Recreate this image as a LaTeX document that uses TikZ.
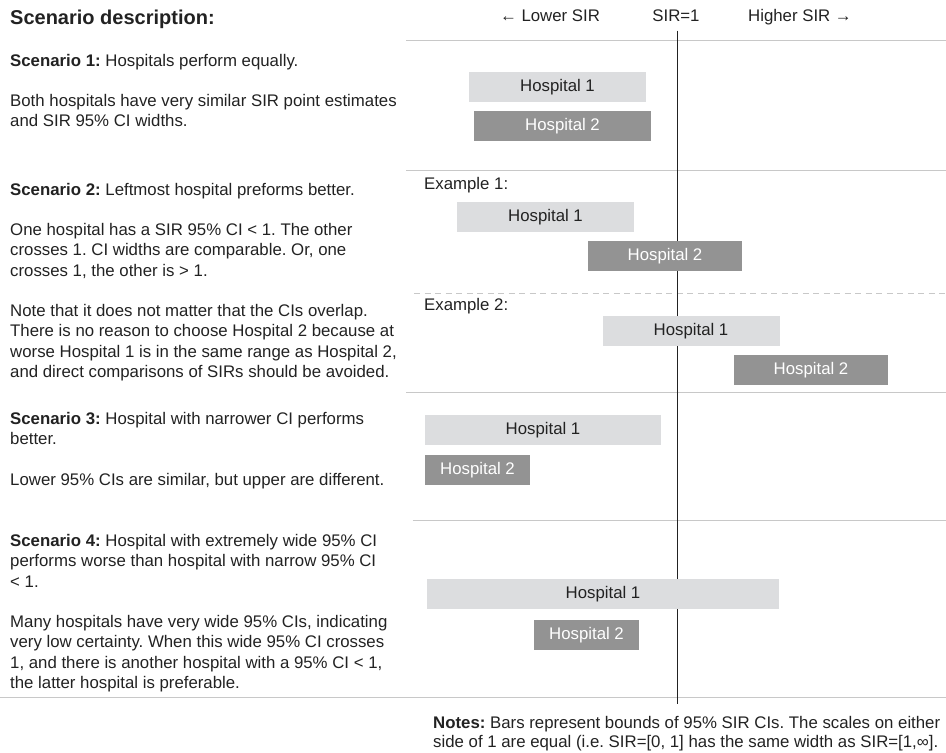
\documentclass[tikz,border=0pt]{standalone}
\usepackage{fontspec}
\setmainfont{Liberation Sans}
\usetikzlibrary{positioning}
\frenchspacing

\definecolor{barlightfill}{HTML}{DCDDDF}
\definecolor{bardarkfill}{HTML}{939393}
\definecolor{rulegray}{HTML}{C8C8C8}
\definecolor{inkgray}{HTML}{222222}

\tikzset{
    txt/.style={anchor=north west, inner sep=0pt, align=left, text=inkgray,
        font=\fontsize{16.8}{20.4}\selectfont},
    axlabel/.style={anchor=base, inner sep=0pt, text=inkgray,
        font=\fontsize{16.8}{20.4}\selectfont},
    hosp/.style={inner sep=0pt, minimum height=30, font=\fontsize{16.8}{20.4}\selectfont},
    hosplight/.style={hosp, fill=barlightfill, text=inkgray},
    hospdark/.style={hosp, fill=bardarkfill, text=white},
    sep/.style={rulegray, line width=1.5pt},
}

\begin{document}
\begin{tikzpicture}[x=1pt, y=-1pt]
    \useasboundingbox (0,0) rectangle (946,753);

    % Scenario texts
    \node[txt, font=\bfseries\fontsize{20}{24}\selectfont] (title) at (10,9.5) {Scenario description:};
    \node[txt] (s1head) at (10,54.5) {\textbf{Scenario 1:} Hospitals perform equally.};
    \node[txt] (s1text) at (10,94) {Both hospitals have very similar SIR point estimates\\and SIR 95\% CI widths.};
    \node[txt] (s2head) at (10,183) {\textbf{Scenario 2:} Leftmost hospital preforms better.};
    \node[txt] (s2text) at (10,223) {One hospital has a SIR 95\% CI < 1. The other\\crosses 1. CI widths are comparable. Or, one\\crosses 1, the other is > 1.};
    \node[txt] (s2note) at (10,304) {Note that it does not matter that the CIs overlap.\\There is no reason to choose Hospital 2 because at\\worse Hospital 1 is in the same range as Hospital 2,\\and direct comparisons of SIRs should be avoided.};
    \node[txt] (s3head) at (10,412) {\textbf{Scenario 3:} Hospital with narrower CI performs\\better.};
    \node[txt] (s3text) at (10,473) {Lower 95\% CIs are similar, but upper are different.};
    \node[txt] (s4head) at (10,534) {\textbf{Scenario 4:} Hospital with extremely wide 95\% CI\\performs worse than hospital with narrow 95\% CI\\< 1.};
    \node[txt] (s4text) at (10,615) {Many hospitals have very wide 95\% CIs, indicating\\very low certainty. When this wide 95\% CI crosses\\1, and there is another hospital with a 95\% CI < 1,\\the latter hospital is preferable.};

    % Axis labels
    \node[axlabel] (lower) at (550,21.8) {← Lower SIR};
    \node[axlabel] (one) at (676,21.8) {SIR=1};
    \node[axlabel] (higher) at (800,21.8) {Higher SIR →};

    % Separators
    \draw[sep] (406,40.7) -- (946,40.7);
    \draw[sep] (406,170.7) -- (946,170.7);
    \draw[sep, line width=1.2pt, dash pattern=on 6pt off 4.5pt] (414,293.3) -- (946,293.3);
    \draw[sep] (406,392.3) -- (946,392.3);
    \draw[sep] (412.5,520.7) -- (946,520.7);
    \draw[sep] (0,697.3) -- (946,697.3);

    % SIR = 1
    \draw[inkgray, line width=1.4pt] (677.3,30.7) -- (677.3,704);

    % Scenario 1
    \node[hosplight, minimum width=177] (s1a) at (557.5,87) {Hospital 1};
    \node[hospdark, minimum width=177] (s1b) at (562.5,126) {Hospital 2};

    % Scenario 2
    \node[txt] (ex1) at (424,177) {Example 1:};
    \node[hosplight, minimum width=177] (ex1a) at (545.5,217) {Hospital 1};
    \node[hospdark, minimum width=154] (ex1b) at (665,256) {Hospital 2};
    \node[txt] (ex2) at (424,298) {Example 2:};
    \node[hosplight, minimum width=177] (ex2a) at (691,331) {Hospital 1};
    \node[hospdark, minimum width=154] (ex2b) at (811,370) {Hospital 2};

    % Scenario 3
    \node[hosplight, minimum width=236] (s3a) at (543,430) {Hospital 1};
    \node[hospdark, minimum width=105] (s3b) at (477.5,470) {Hospital 2};

    % Scenario 4
    \node[hosplight, minimum width=352.5] (s4a) at (603,594) {Hospital 1};
    \node[hospdark, minimum width=105] (s4b) at (586.5,635) {Hospital 2};

    % Notes
    \node[txt, font=\fontsize{16.8}{18.5}\selectfont] (notes) at (433,716.5) {\textbf{Notes:} Bars represent bounds of 95\% SIR CIs. The scales on either\\side of 1 are equal (i.e. SIR=[0, 1] has the same width as SIR=[1,∞].};
\end{tikzpicture}
\end{document}
